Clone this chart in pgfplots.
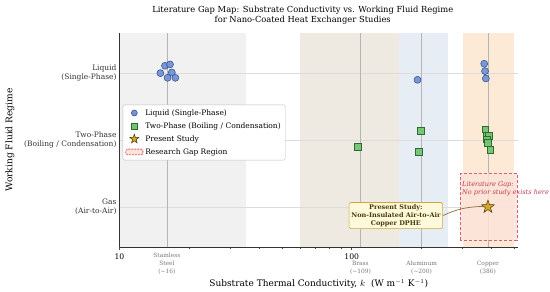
\documentclass[border=0pt]{standalone}
\usepackage{pgfplots}
\pgfplotsset{compat=1.18}
\usepackage{fontspec}
\setmainfont{DejaVu Serif}

\definecolor{liqfill}{HTML}{7393D6}
\definecolor{liqedge}{HTML}{2B4A8C}
\definecolor{tpfill}{HTML}{74C474}
\definecolor{tpedge}{HTML}{2E6B2E}
\definecolor{starfill}{HTML}{D6A62C}
\definecolor{staredge}{HTML}{4A3B00}
\definecolor{bandss}{HTML}{F1F1F1}
\definecolor{bandbr}{HTML}{EEE9E1}
\definecolor{bandal}{HTML}{E6EDF5}
\definecolor{bandcu}{HTML}{FDEAD6}
\definecolor{gapfill}{HTML}{FCE3DA}
\definecolor{gapedge}{HTML}{D8606C}
\definecolor{gaptext}{HTML}{C0394B}
\definecolor{annfill}{HTML}{FFF9DC}
\definecolor{annedge}{HTML}{C9A93E}
\definecolor{anntext}{HTML}{4A3A05}
\definecolor{arrowc}{HTML}{8B7235}
\definecolor{vline}{HTML}{B5B5B5}
\definecolor{hgrid}{HTML}{DCDCDC}
\definecolor{mattext}{HTML}{777777}

\pgfdeclareplotmark{fstar}{%
  \pgfpathmoveto{\pgfpointpolar{90}{\pgfplotmarksize}}%
  \pgfpathlineto{\pgfpointpolar{126}{0.4\pgfplotmarksize}}%
  \pgfpathlineto{\pgfpointpolar{162}{\pgfplotmarksize}}%
  \pgfpathlineto{\pgfpointpolar{198}{0.4\pgfplotmarksize}}%
  \pgfpathlineto{\pgfpointpolar{234}{\pgfplotmarksize}}%
  \pgfpathlineto{\pgfpointpolar{270}{0.4\pgfplotmarksize}}%
  \pgfpathlineto{\pgfpointpolar{306}{\pgfplotmarksize}}%
  \pgfpathlineto{\pgfpointpolar{342}{0.4\pgfplotmarksize}}%
  \pgfpathlineto{\pgfpointpolar{18}{\pgfplotmarksize}}%
  \pgfpathlineto{\pgfpointpolar{54}{0.4\pgfplotmarksize}}%
  \pgfpathclose
  \pgfusepathqfillstroke
}

\pgfplotstableread{
x y
15.7 2.11
16.5 2.13
15.0 2.00
16.8 2.01
16.1 1.93
17.4 1.93
192 1.90
372 2.14
375 2.03
378 1.92
}\liquid

\pgfplotstableread{
x y
106 0.90
199 1.14
195 0.82
376 1.16
381 1.07
388 1.06
380 1.01
384 0.96
395 0.85
}\twophase

\pgfplotstableread{
x y
386 0
}\present

\begin{document}
\begin{tikzpicture}
\path[use as bounding box] (-119.5pt,-45pt) rectangle (430.5pt,247pt);
\begin{axis}[
  scale only axis,
  width=398.5pt, height=214pt,
  xmode=log,
  xmin=10, xmax=520,
  ymin=-0.6, ymax=2.6,
  clip=false,
  axis x line*=bottom,
  axis y line*=left,
  axis line style={-, line width=0.6pt, black!80},
  tick align=outside,
  xtick={10,100},
  xticklabels={10,100},
  minor xtick={20,30,40,50,60,70,80,90,200,300,400,500},
  major tick length=3.5pt,
  minor tick length=2pt,
  tick style={black!70, line width=0.5pt},
  ytick={0,1,2},
  ytick style={draw=none},
  yticklabels={{Gas\\(Air-to-Air)},{Two-Phase\\(Boiling / Condensation)},{Liquid\\(Single-Phase)}},
  yticklabel style={align=right, font=\fontsize{7.5}{9.3}\selectfont, text=black!80, xshift=4pt},
  xticklabel style={font=\fontsize{7.7}{9}\selectfont},
  /pgf/number format/assume math mode=true,
  xlabel={Substrate Thermal Conductivity, $k$\ \ (W m$^{-1}$ K$^{-1}$)},
  xlabel style={font=\fontsize{9}{10}\selectfont, at={(axis description cs:0.5,0)}, anchor=center, yshift=-37pt},
  ylabel={Working Fluid Regime},
  ylabel style={font=\fontsize{9.1}{10}\selectfont, at={([xshift=-109.5pt]axis description cs:0,0.5)}, anchor=center},
  title={Literature Gap Map: Substrate Conductivity vs. Working Fluid Regime\\for Nano-Coated Heat Exchanger Studies},
  title style={font=\fontsize{8.35}{10.6}\selectfont, align=center, at={(axis description cs:0.5,1)}, anchor=center, xshift=-16pt, yshift=11.8pt},
  legend style={at={(0.008,0.665)}, anchor=north west, font=\fontsize{7.5}{8.6}\selectfont,
    draw=black!25, fill=white, rounded corners=1.5pt, inner sep=2.5pt,
    row sep=1.8pt, legend cell align=left},
]
% material bands
\fill[bandss] (axis cs:10,-0.6) rectangle (axis cs:35,2.6);
\fill[bandbr] (axis cs:60,-0.6) rectangle (axis cs:160,2.6);
\fill[bandal] (axis cs:160,-0.6) rectangle (axis cs:260,2.6);
\fill[bandcu] (axis cs:300,-0.6) rectangle (axis cs:500,2.6);
% horizontal grid
\draw[hgrid, line width=0.45pt] (axis cs:10,0) -- (axis cs:520,0);
\draw[hgrid, line width=0.45pt] (axis cs:10,1) -- (axis cs:520,1);
\draw[hgrid, line width=0.45pt] (axis cs:10,2) -- (axis cs:520,2);
% material reference lines
\draw[vline, line width=0.6pt] (axis cs:16,-0.6) -- (axis cs:16,2.6);
\draw[vline, line width=0.6pt] (axis cs:109,-0.6) -- (axis cs:109,2.6);
\draw[vline, line width=0.6pt] (axis cs:200,-0.6) -- (axis cs:200,2.6);
\draw[vline, line width=0.6pt] (axis cs:386,-0.6) -- (axis cs:386,2.6);
% gap region
\filldraw[fill=gapfill, fill opacity=0.85, draw=gapedge, line width=0.9pt, dash pattern=on 3pt off 2pt]
  (axis cs:294,-0.5) rectangle (axis cs:515,0.5);
\node[anchor=north west, inner sep=0pt, align=left, text=gaptext,
      font=\itshape\fontsize{6.55}{8}\selectfont, xshift=1.5pt, yshift=-8.5pt]
  at (axis cs:294,0.5) {Literature Gap:\\No prior study exists here};

% data
\addplot[forget plot, only marks, mark=*, mark size=3.5pt,
  mark options={fill=liqfill, draw=liqedge, line width=0.5pt, fill opacity=0.95}]
  table[x=x,y=y] {\liquid};
\addplot[forget plot, only marks, mark=square*, mark size=3.4pt,
  mark options={fill=tpfill, draw=tpedge, line width=0.5pt, fill opacity=0.95}]
  table[x=x,y=y] {\twophase};
\addplot[forget plot, only marks, mark=fstar, mark size=6.8pt,
  mark options={fill=starfill, draw=staredge, line width=0.5pt}]
  table[x=x,y=y] {\present};

\addlegendimage{only marks, mark=*, mark size=3pt, mark options={fill=liqfill, draw=liqedge, line width=0.5pt}}
\addlegendentry{Liquid (Single-Phase)}
\addlegendimage{only marks, mark=square*, mark size=2.9pt, mark options={fill=tpfill, draw=tpedge, line width=0.5pt}}
\addlegendentry{Two-Phase (Boiling / Condensation)}
\addlegendimage{only marks, mark=fstar, mark size=4.8pt, mark options={fill=starfill, draw=staredge, line width=0.5pt}}
\addlegendentry{Present Study}
\addlegendimage{area legend, fill=gapfill, draw=gapedge, line width=0.8pt, dash pattern=on 2pt off 1pt}
\addlegendentry{Research Gap Region}

% annotation
\node[fill=annfill, draw=annedge, line width=0.6pt, rounded corners=1.5pt, align=center,
      text=anntext, font=\bfseries\fontsize{6.5}{7.7}\selectfont, inner sep=2.2pt]
  (ann) at (axis cs:155,-0.13) {Present Study:\\Non-Insulated Air-to-Air\\Copper DPHE};
\draw[arrowc, line width=0.7pt] (ann.east) to[out=25,in=182] ([xshift=-5pt,yshift=0.5pt]axis cs:386,0);

% material labels
\node[anchor=south, align=center, text=mattext, font=\fontsize{5.9}{7.8}\selectfont, inner sep=0pt, yshift=-27.5pt]
  at (axis cs:16,-0.6) {Stainless\\Steel\\(∼16)};
\node[anchor=south, align=center, text=mattext, font=\fontsize{5.9}{7.8}\selectfont, inner sep=0pt, yshift=-27.5pt]
  at (axis cs:109,-0.6) {Brass\\(∼109)};
\node[anchor=south, align=center, text=mattext, font=\fontsize{5.9}{7.8}\selectfont, inner sep=0pt, yshift=-27.5pt]
  at (axis cs:200,-0.6) {Aluminum\\(∼200)};
\node[anchor=south, align=center, text=mattext, font=\fontsize{5.9}{7.8}\selectfont, inner sep=0pt, yshift=-27.5pt]
  at (axis cs:386,-0.6) {Copper\\(386)};
\end{axis}
\end{tikzpicture}
\end{document}
